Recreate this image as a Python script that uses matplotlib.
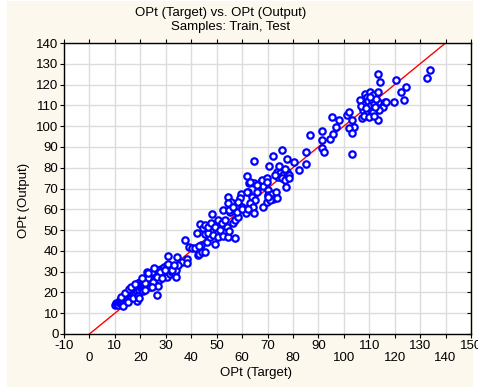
import matplotlib
matplotlib.use("Agg")
import matplotlib.pyplot as plt
from matplotlib.patches import Rectangle

plt.rcParams['font.family'] = ['Liberation Sans Narrow', 'Liberation Sans', 'DejaVu Sans']
plt.rcParams['axes.unicode_minus'] = False

# target / output pairs
target = [
    10.0, 10.5, 11.0, 11.2, 11.5, 12.0, 12.0, 12.3, 12.8, 13.0, 13.2, 13.5, 13.8, 14.0, 14.2, 14.5,
    14.8, 15.0, 15.2, 15.5, 15.8, 16.0, 16.2, 16.5, 16.8, 17.0, 17.2, 17.5, 17.8, 18.0, 18.2, 18.5,
    18.8, 18.8, 19.0, 19.2, 19.5, 19.8, 20.0, 20.2, 20.5, 20.8, 21.0, 21.2, 21.5, 21.8, 22.0, 22.2,
    22.5, 22.8, 23.0, 23.2, 23.5, 23.8, 24.0, 24.2, 24.5, 24.8, 25.0, 25.3, 25.5, 25.8, 26.0, 26.2,
    26.5, 26.7, 26.8, 27.0, 27.3, 27.5, 27.8, 28.0, 28.3, 28.5, 28.8, 29.0, 29.3, 29.5, 29.8, 30.0,
    30.3, 30.5, 30.8, 31.0, 31.5, 32.0, 32.5, 33.0, 33.5, 34.0,
    22.5, 24.5, 25.5, 27.7, 29.7, 31.0, 32.3, 23.1, 25.1, 27.1, 23.8, 21.8, 26.4, 28.4,
    12.5, 14.0, 15.5, 16.5, 13.0, 15.0, 17.0, 19.0, 21.0, 18.0, 20.5, 23.0, 19.5, 22.0, 24.5,
    30.8, 34.5, 36.3, 38.2, 38.5, 34.9, 33.2, 34.0, 37.6, 39.3, 40.2, 41.5, 42.6, 43.2, 44.4, 45.4,
    43.9, 43.2, 46.1, 49.4, 42.4, 43.5, 44.8, 45.4, 47.4, 46.7, 48.7, 50.4, 52.6, 54.6, 57.2, 45.4,
    46.7, 47.8, 49.4, 51.3, 54.0, 54.9, 48.1, 50.7, 52.0, 53.3, 56.5, 57.2, 58.5, 55.3, 57.9, 61.4,
    52.6, 55.0,
    54.3, 55.6, 54.3, 56.5, 59.6, 59.2, 58.5, 60.1, 59.9, 62.2, 63.8, 65.1, 63.1, 63.8, 64.4, 62.5,
    64.5, 68.3, 69.7, 62.1, 62.8, 64.8, 66.1, 67.4, 68.3, 70.3, 63.1, 66.0, 66.0, 62.1, 64.7, 67.7,
    69.7, 69.7, 70.3, 71.4, 71.6, 72.3, 73.3, 71.0, 73.6, 70.0, 77.1, 73.6, 74.9, 76.2, 77.5, 78.4,
    74.2, 75.6, 76.9, 78.6, 72.9, 70.7, 74.6, 77.0, 72.3, 75.6, 77.7, 80.3, 82.5,
    85.0, 85.0, 86.6, 91.3, 91.3, 91.3, 92.1, 94.6, 95.9, 96.8, 95.2, 98.2, 101.4, 102.1, 103.1, 104.0,
    102.1, 103.1, 103.1, 107.0,
    106.4, 108.3, 109.2, 110.3, 111.3, 113.3, 113.3, 114.1, 113.5, 115.3, 116.2, 114.0, 113.3, 120.4,
    122.6, 124.3, 123.6, 119.7, 133.9, 132.8, 116.5,
    107.5, 108.5, 109.0, 109.5, 110.0, 110.5, 110.8, 111.0, 111.5, 112.0, 112.3, 112.5, 108.0, 109.8,
    111.8, 110.2, 106.8, 108.8,
]
output = [
    14.0, 15.0, 14.2, 13.8, 15.5, 14.8, 16.2, 15.2, 16.8, 15.0, 16.0, 17.5, 15.8, 16.8, 18.0, 17.0,
    16.2, 18.5, 17.5, 19.0, 17.8, 18.8, 20.0, 18.0, 19.5, 21.0, 19.0, 20.5, 22.0, 19.8, 21.2, 23.0,
    16.0, 20.5, 22.0, 24.5, 21.0, 23.2, 25.2, 22.0, 24.0, 21.5, 23.0, 26.0, 24.5, 22.5, 25.5, 27.0,
    23.5, 26.0, 24.5, 28.0, 25.8, 27.2, 23.5, 26.5, 28.4, 25.0, 27.5, 29.5, 26.2, 28.5, 30.0, 27.0,
    29.0, 18.8, 31.0, 27.8, 29.8, 26.0, 30.5, 28.5, 31.5, 27.2, 29.5, 30.8, 28.0, 32.0, 29.8, 31.0,
    27.5, 33.0, 30.2, 32.0, 29.0, 31.5, 30.0, 32.5, 29.5, 31.0,
    29.7, 30.0, 31.9, 30.0, 30.8, 33.5, 30.8, 27.1, 24.9, 23.2, 22.8, 24.4, 27.6, 26.8,
    18.0, 19.5, 21.5, 22.5, 13.5, 15.2, 17.2, 18.5, 20.5, 24.0, 27.0, 29.5, 17.5, 21.0, 22.5,
    37.5, 37.2, 34.8, 36.1, 34.0, 33.2, 33.2, 27.6, 45.2, 42.0, 41.2, 41.5, 38.0, 38.7, 39.3, 39.6,
    42.8, 42.3, 44.4, 43.1, 48.7, 52.7, 50.8, 48.0, 46.8, 48.4, 47.6, 46.8, 47.1, 46.5, 46.0, 52.4,
    51.6, 53.6, 51.3, 50.0, 51.3, 49.7, 57.7, 54.8, 53.2, 54.8, 53.2, 54.8, 56.4, 58.8, 58.8, 58.0,
    59.6, 59.6,
    65.7, 63.6, 62.9, 61.3, 67.3, 65.3, 63.3, 61.3, 59.9, 68.1, 66.1, 64.5, 62.9, 59.6, 61.3, 59.9,
    58.0, 61.3, 63.3, 76.0, 72.8, 72.8, 70.6, 73.3, 71.2, 69.3, 73.3, 71.7, 68.5, 68.5, 83.4, 74.1,
    74.9, 73.3, 66.9, 65.6, 67.3, 64.8, 68.5, 64.5, 65.3, 66.1, 70.9, 78.1, 77.3, 76.5, 78.1, 76.5,
    75.7, 74.9, 74.1, 74.9, 76.5, 80.7, 80.8, 79.5, 85.5, 88.4, 84.3, 82.6, 78.9,
    81.8, 87.4, 95.9, 97.9, 93.2, 89.5, 87.4, 93.8, 96.0, 99.8, 104.5, 102.8, 105.3, 106.6, 102.9, 99.8,
    98.9, 96.5, 86.4, 103.8,
    112.6, 115.3, 114.1, 116.6, 115.0, 116.3, 124.9, 121.1, 111.4, 109.2, 111.4, 107.6, 102.8, 122.2,
    116.2, 119.0, 112.4, 111.4, 127.0, 123.0, 111.4,
    108.0, 110.5, 106.5, 112.0, 108.5, 110.0, 105.5, 112.5, 107.0, 110.5, 109.0, 113.0, 105.0, 104.5,
    104.8, 113.8, 109.5, 108.8,
]

fit_line = [0, 140]
x_ticks = list(range(-10, 151, 10))
y_ticks = list(range(0, 141, 10))

bg = '#fdf8ed'
fig = plt.figure(figsize=(4.78, 3.87), dpi=100)
fig.patch.set_facecolor('white')
fig.patches.append(Rectangle((7 / 478, 0), 466 / 478, 386 / 387, transform=fig.transFigure,
                             facecolor=bg, edgecolor='none', zorder=-10))
ax = fig.add_axes([64 / 478, 53 / 387, 407 / 478, 291 / 387])
ax.set_facecolor('white')
ax.set_zorder(1)

ax.plot(fit_line, fit_line, color='red', lw=1, zorder=2)
ax.plot(target, output, 'o', ls='none', ms=4.6, mew=1.6, mec='#0000ff', mfc='white', zorder=3)

ax.set_xlim(-10, 150)
ax.set_ylim(0, 140)
ax.set_xticks(x_ticks)
ax.set_yticks(y_ticks)
ax.grid(True, color='#dcdcdc', lw=1)
ax.set_axisbelow(True)
for s in ax.spines.values():
    s.set_color('black')
    s.set_linewidth(1)

ax.tick_params(axis='both', which='major', labelsize=9.5, length=3, color='black', direction='out')
ax.tick_params(top=True, right=True)
ax.tick_params(axis='y', pad=1)
for t in ax.xaxis.get_major_ticks():
    t.tick2line.set_marker(3)  # inward on top
for t in ax.yaxis.get_major_ticks():
    t.tick2line.set_marker(0)  # inward on right
for i, t in enumerate(ax.xaxis.get_major_ticks()):
    t.set_pad(1 if i % 2 == 0 else 10)

fig.text(221 / 478, 1 - 13 / 387, 'OPt (Target) vs. OPt (Output)', ha='center', va='center', fontsize=9.5)
fig.text(231 / 478, 1 - 27 / 387, 'Samples: Train, Test', ha='center', va='center', fontsize=9.5)
fig.text(256 / 478, 1 - 373 / 387, 'OPt (Target)', ha='center', va='center', fontsize=9.5)
fig.text(24 / 478, 1 - 200 / 387, 'OPt (Output)', ha='center', va='center', rotation=90, fontsize=9.5)

fig.savefig('out.png', dpi=100, facecolor=fig.get_facecolor())
